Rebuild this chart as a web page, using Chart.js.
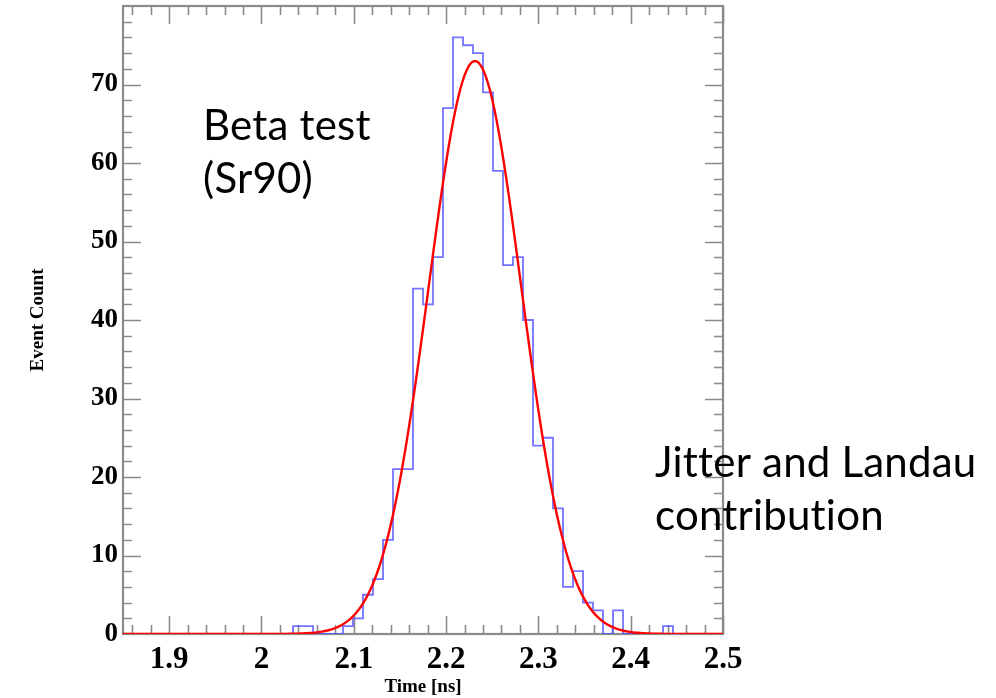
<!DOCTYPE html>
<html>
<head>
<meta charset="utf-8">
<script src="https://cdn.jsdelivr.net/npm/chart.js@4.4.1/dist/chart.umd.min.js"></script>
<style>
  html, body { margin: 0; padding: 0; background: #fff; }
  #wrap { width: 996px; height: 698px; position: relative; }
</style>
</head>
<body>
<div id="wrap"><canvas id="canvas"></canvas></div>
<script>
// histogram: 60 bins between 1.85 and 2.5 ns
var binLow = 1.85;
var binHigh = 2.5;
var counts = [
    0, 0, 0, 0, 0, 0, 0, 0, 0, 0,
    0, 0, 0, 0, 0, 0, 0, 1, 1, 0,
    0, 0, 1, 2, 5, 7, 12, 21, 21, 44,
    42, 48, 67, 76, 75, 74, 69, 59, 47, 48,
    40, 24, 25, 16, 6, 8, 4, 3, 0, 3,
    0, 0, 0, 0, 1, 0, 0, 0, 0, 0
];

// gaussian fit result
var fitConstant = 73.0;
var fitMean = 2.2313;
var fitSigma = 0.0501;

var xTickValues = [1.9, 2, 2.1, 2.2, 2.3, 2.4, 2.5];
var yTickValues = [0, 10, 20, 30, 40, 50, 60, 70];
var yMax = 80;

var noteTop = ["Beta test", "(Sr90)"];
var noteBottom = ["Jitter and Landau", "contribution"];

var binWidth = (binHigh - binLow) / counts.length;

// outline points at the lower edge of every bin, closed at the upper edge
var histPoints = counts.map(function(c, i) {
    return { x: binLow + i * binWidth, y: c };
});
histPoints.push({ x: binHigh, y: counts[counts.length - 1] });

var fitPoints = [];
for (var k = 0; k <= 260; k++) {
    var t = binLow + (binHigh - binLow) * k / 260;
    var d = (t - fitMean) / fitSigma;
    fitPoints.push({ x: t, y: fitConstant * Math.exp(-0.5 * d * d) });
}

// drop the label overhang padding so the frame sits where the layout says
function noOverhang(scale) {
    scale.paddingTop = 0;
    scale.paddingBottom = 0;
    scale.paddingLeft = 0;
    scale.paddingRight = 0;
}

// ROOT style frame with ticks pointing inwards on all four sides
var frameTicks = {
    id: "frameTicks",
    beforeDatasetsDraw: function(chart) {
        var c = chart.ctx, a = chart.chartArea;
        var xs = chart.scales.x, ys = chart.scales.y;
        c.save();
        c.strokeStyle = "#8a8a8a";
        c.lineWidth = 1.6;
        c.beginPath();
        for (var i = 0; i <= 32; i++) {
            var v = 1.86 + i * 0.02;
            if (v > binHigh + 1e-9) break;
            var px = Math.round(xs.getPixelForValue(v)) + 0.5;
            var major = Math.abs(v * 10 - Math.round(v * 10)) < 1e-6;
            var len = major ? 18 : 9;
            c.moveTo(px, a.bottom); c.lineTo(px, a.bottom - len);
            c.moveTo(px, a.top); c.lineTo(px, a.top + len);
        }
        for (var j = 2; j < yMax; j += 2) {
            var py = Math.round(ys.getPixelForValue(j)) + 0.5;
            var lenY = j % 10 === 0 ? 18 : 9;
            c.moveTo(a.left, py); c.lineTo(a.left + lenY, py);
            c.moveTo(a.right, py); c.lineTo(a.right - lenY, py);
        }
        c.stroke();
        c.lineWidth = 2.2;
        c.strokeRect(a.left, a.top, a.right - a.left, a.bottom - a.top);
        c.restore();
    },
    afterDraw: function(chart) {
        var c = chart.ctx;
        c.save();
        c.fillStyle = "#000";
        c.font = "42px Lato, 'Open Sans', sans-serif";
        c.letterSpacing = "0.2px";
        c.textBaseline = "alphabetic";
        c.fillText(noteTop[0], 203, 140);
        c.fillText(noteTop[1], 203, 193);
        c.fillText(noteBottom[0], 655, 477);
        c.fillText(noteBottom[1], 655, 530);
        c.restore();
    }
};

var chart = new Chart(document.getElementById("canvas"), {
    type: "line",
    data: {
        datasets: [{
            label: "hist",
            data: histPoints,
            stepped: "before",
            borderColor: "rgba(80, 80, 255, 0.8)",
            borderWidth: 1.8,
            pointRadius: 0,
            fill: false,
            order: 2
        }, {
            label: "fit",
            data: fitPoints,
            borderColor: "#ff0000",
            borderWidth: 2.4,
            pointRadius: 0,
            tension: 0,
            fill: false,
            order: 1
        }]
    },
    options: {
        responsive: true,
        maintainAspectRatio: false,
        animation: false,
        layout: { padding: { top: 6, right: 273, left: 0, bottom: 0 } },
        plugins: {
            legend: { display: false },
            tooltip: { enabled: false }
        },
        scales: {
            x: {
                type: "linear",
                min: binLow,
                max: binHigh,
                grid: { display: false, drawTicks: false },
                border: { display: false },
                afterBuildTicks: function(scale) {
                    scale.ticks = xTickValues.map(function(v) { return { value: v }; });
                },
                afterFit: function(scale) {
                    scale.height = 64;
                    noOverhang(scale);
                },
                ticks: {
                    padding: 7,
                    color: "#000",
                    maxRotation: 0,
                    autoSkip: false,
                    font: { family: "'Liberation Serif', serif", weight: "bold", size: 31 },
                    callback: function(v) { return String(v); }
                },
                title: {
                    display: true,
                    text: "Time [ns]",
                    color: "#000",
                    padding: { top: 0, bottom: 0 },
                    font: { family: "'Liberation Serif', serif", weight: "bold", size: 19 }
                }
            },
            y: {
                min: 0,
                max: yMax,
                grid: { display: false, drawTicks: false },
                border: { display: false },
                afterBuildTicks: function(scale) {
                    scale.ticks = yTickValues.map(function(v) { return { value: v }; });
                },
                afterFit: function(scale) {
                    scale.width = 123;
                    noOverhang(scale);
                },
                ticks: {
                    padding: 5,
                    color: "#000",
                    autoSkip: false,
                    font: { family: "'Liberation Serif', serif", weight: "bold", size: 27 }
                },
                title: {
                    display: true,
                    text: "Event Count",
                    color: "#000",
                    padding: { top: 27, bottom: 0 },
                    font: { family: "'Liberation Serif', serif", weight: "bold", size: 19 }
                }
            }
        }
    },
    plugins: [frameTicks]
});
</script>
</body>
</html>
